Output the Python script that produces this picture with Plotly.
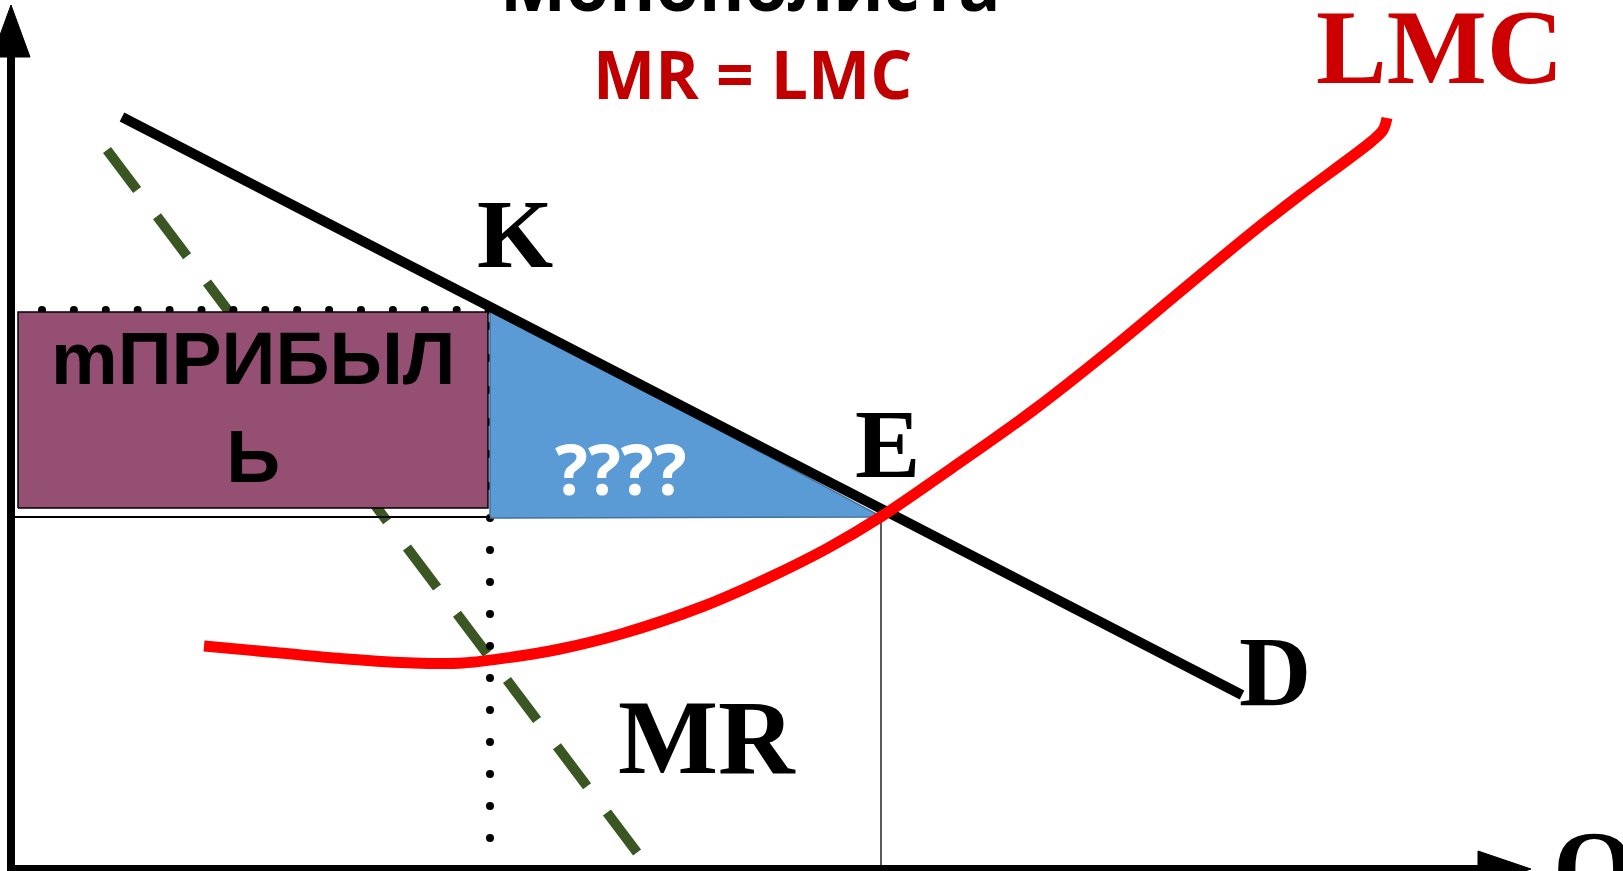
import numpy as np
import plotly.graph_objects as go

# demand curve D (Q, P)
d_q = [11.1, 123.1]
d_p = [75.2, 17.4]

# marginal revenue MR
mr_q = [9.6, 62.8]
mr_p = [71.9, 1.4]

# long-run marginal cost LMC
lmc_q = [19.3, 26.9, 33.6, 40.2, 45.2, 50.2, 54.9, 61.0, 69.3, 75.5, 81.7,
         87.1, 94.1, 102.4, 109.9, 117.0, 123.9, 128.9, 133.9, 136.1, 137.2, 137.6]
lmc_p = [22.3, 21.6, 21.0, 20.6, 20.6, 21.2, 22.0, 23.5, 26.3, 29.0, 32.1,
         35.3, 40.1, 46.0, 51.9, 57.8, 63.5, 67.4, 71.1, 72.8, 73.9, 75.1]

# points K and E
k_q, k_p = 47.9, 56.1
e_q, e_p = 87.1, 35.2

title_text = "Монополиста"
rule_text = "MR = LMC"
box_text = "mПРИБЫЛ<br>Ь"
loss_text = "????"

fig = go.Figure()

# MR dashed line
fig.add_trace(go.Scatter(x=mr_q, y=mr_p, mode='lines',
    line=dict(color='#3a5723', width=10, dash='50px,33px'),
    hoverinfo='skip', showlegend=False))

# dotted guide lines from K
hq = np.arange(3.1, k_q + 0.1, 3.19)
fig.add_trace(go.Scatter(x=hq, y=[k_p - 0.2] * len(hq), mode='markers',
    marker=dict(color='black', size=8), hoverinfo='skip', showlegend=False))
vp = np.arange(3.1, k_p - 1.0, 3.2)
fig.add_trace(go.Scatter(x=[k_q] * len(vp), y=vp, mode='markers',
    marker=dict(color='black', size=8), hoverinfo='skip', showlegend=False))

# profit box
bx0, bx1 = 0.7, k_q - 0.2
by0, by1 = e_p + 0.9, k_p - 0.4
fig.add_trace(go.Scatter(x=[bx0, bx1, bx1, bx0, bx0], y=[by0, by0, by1, by1, by0],
    mode='lines', fill='toself', fillcolor='#954f72',
    line=dict(color='black', width=1.5), hoverinfo='skip', showlegend=False))

# blue triangle
fig.add_trace(go.Scatter(x=[k_q, k_q, e_q, k_q], y=[k_p, e_p - 0.1, e_p, k_p],
    mode='lines', fill='toself', fillcolor='#5b9bd5',
    line=dict(color='#41719c', width=1.5), hoverinfo='skip', showlegend=False))

# thin price / quantity lines for E
fig.add_trace(go.Scatter(x=[0, k_q], y=[e_p, e_p], mode='lines',
    line=dict(color='black', width=2), hoverinfo='skip', showlegend=False))
fig.add_trace(go.Scatter(x=[e_q - 0.1, e_q - 0.1], y=[e_p, 0], mode='lines',
    line=dict(color='black', width=1.3), hoverinfo='skip', showlegend=False))

# demand
fig.add_trace(go.Scatter(x=d_q, y=d_p, mode='lines',
    line=dict(color='black', width=10), hoverinfo='skip', showlegend=False))

# LMC
fig.add_trace(go.Scatter(x=lmc_q, y=lmc_p, mode='lines',
    line=dict(color='#ff0000', width=11, shape='spline', smoothing=1.0),
    hoverinfo='skip', showlegend=False))

# axes with arrow heads
fig.add_trace(go.Scatter(x=[0, 0], y=[-1, 81.5], mode='lines',
    line=dict(color='black', width=8), hoverinfo='skip', showlegend=False))
fig.add_trace(go.Scatter(x=[-1.1, 1.9, 0, -1.9], y=[81.2, 81.2, 86.4, 81.2],
    mode='lines', fill='toself', fillcolor='black', line=dict(color='black', width=1),
    hoverinfo='skip', showlegend=False))
fig.add_trace(go.Scatter(x=[-0.4, 147.0], y=[0, 0], mode='lines',
    line=dict(color='black', width=8), hoverinfo='skip', showlegend=False))
fig.add_trace(go.Scatter(x=[146.7, 146.7, 152.0, 146.7], y=[1.8, -1.8, 0, 1.8],
    mode='lines', fill='toself', fillcolor='black', line=dict(color='black', width=1),
    hoverinfo='skip', showlegend=False))

serif = "Liberation Serif, Times New Roman, serif"
sans = "Open Sans, sans-serif"
arial = "Liberation Sans, Arial, sans-serif"

def label(x, y, text, size, color='black', family=serif, yref='y'):
    fig.add_annotation(x=x, y=y, xref='x', yref=yref, text="<b>" + text + "</b>",
        showarrow=False, font=dict(family=family, size=size, color=color),
        xanchor='center', yanchor='middle')

label(50.4, 63.5, "K", 98)
label(87.6, 42.5, "E", 98)
label(126.4, 19.8, "D", 100)
label(69.6, 13.2, "MR", 106)
label(142.8, 82.2, "LMC", 106, color='#cc0000')
label(158.3, 0.1, "Q", 106)
label(74.1, 79.6, rule_text, 66, color='#c00000', family=sans)
label(73.9, 1.018, title_text, 70, family=sans, yref='paper')
label(61.0, 40.1, loss_text, 69, color='white', family=sans)
fig.add_annotation(x=24.2, y=46.2, text="<b>" + box_text + "</b>", showarrow=False,
    font=dict(family=arial, size=75, color='black'), align='center',
    xanchor='center', yanchor='middle')

fig.update_layout(
    width=1623, height=871,
    margin=dict(l=0, r=0, t=0, b=0),
    paper_bgcolor='white', plot_bgcolor='white',
    xaxis=dict(range=[-1.1, 161.2], visible=False, fixedrange=True),
    yaxis=dict(range=[-0.2, 86.9], visible=False, fixedrange=True),
)

fig.write_html("out.html", config={'displayModeBar': False},
               post_script="document.body.style.margin='0px';"
                           "document.body.style.overflow='hidden';")
